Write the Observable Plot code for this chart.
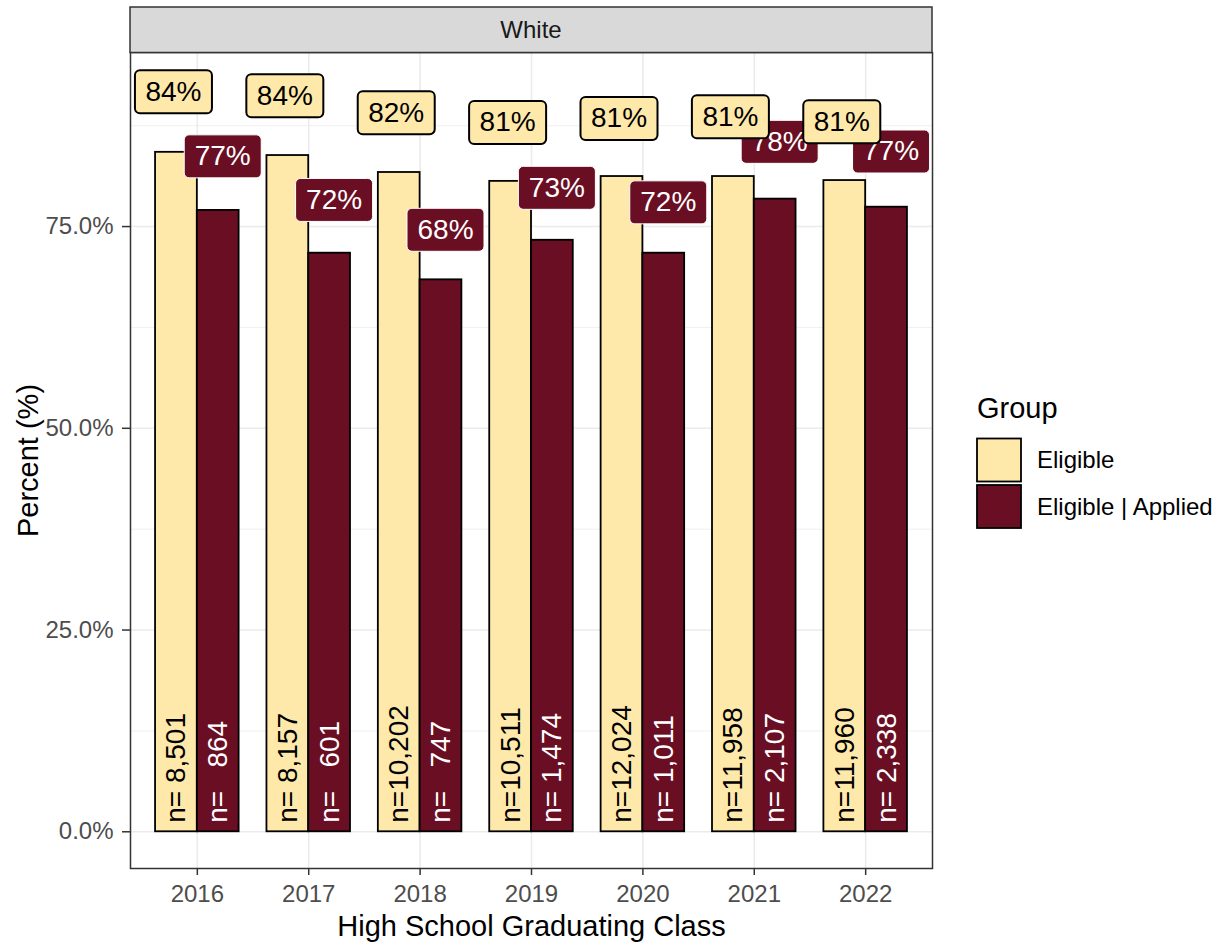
<!DOCTYPE html>
<html>
<head>
<meta charset="utf-8">
<script src="https://cdn.jsdelivr.net/npm/d3@7"></script>
<script src="https://cdn.jsdelivr.net/npm/@observablehq/plot@0.6"></script>
<style>
  html, body { margin: 0; padding: 0; background: white; }
  svg { display: block; }
</style>
</head>
<body>
<div id="chart"></div>
<script>
// ---- data ----
const years = [2016, 2017, 2018, 2019, 2020, 2021, 2022];
const groups = ["Eligible", "Eligible | Applied"];
const eligiblePct = [84.2, 83.8, 81.7, 80.6, 81.2, 81.2, 80.7];
const appliedPct  = [77.0, 71.7, 68.4, 73.3, 71.7, 78.4, 77.4];
const eligibleN = [8501, 8157, 10202, 10511, 12024, 11958, 11960];
const appliedN  = [864, 601, 747, 1474, 1011, 2107, 2338];
// jittered label positions (percent units)
const eligibleLabelY = [91.7, 91.2, 89.1, 87.9, 88.4, 88.6, 88.0];
const appliedLabelY  = [83.7, 78.3, 74.6, 79.8, 78.0, 85.5, 84.3];
const yTicks = [0, 25, 50, 75];
const yMinorTicks = [12.5, 37.5, 62.5, 87.5];
const facetLabel = "White";
const xTitle = "High School Graduating Class";
const yTitle = "Percent (%)";
const legendTitle = "Group";

// ---- styling ----
const colors = ["#FFE9AA", "#6A0E23"];
const textColors = ["#000000", "#FFFFFF"];
const font = "'Liberation Sans', Arial, sans-serif";

const rows = years.flatMap((year, i) => [
  {year, group: groups[0], gi: 0, value: eligiblePct[i], n: eligibleN[i], labelY: eligibleLabelY[i]},
  {year, group: groups[1], gi: 1, value: appliedPct[i], n: appliedN[i], labelY: appliedLabelY[i]}
]);

const barW = 0.375;
const center = d => d.year + (d.gi === 0 ? -barW / 2 : barW / 2);
const fmtN = d => "n=" + d3.format(",")(d.n).padStart(6, "\u00A0");
const fmtPct = d => Math.round(d.value) + "%";

function roundRect(w, h, r) {
  return {
    draw(ctx) {
      const x0 = -w / 2, y0 = -h / 2, x1 = w / 2, y1 = h / 2;
      ctx.moveTo(x0 + r, y0);
      ctx.lineTo(x1 - r, y0);
      ctx.arcTo(x1, y0, x1, y0 + r, r);
      ctx.lineTo(x1, y1 - r);
      ctx.arcTo(x1, y1, x1 - r, y1, r);
      ctx.lineTo(x0 + r, y1);
      ctx.arcTo(x0, y1, x0, y1 - r, r);
      ctx.lineTo(x0, y0 + r);
      ctx.arcTo(x0, y0, x0 + r, y0, r);
      ctx.closePath();
    }
  };
}
const box = roundRect(77, 43, 5);

const elig = rows.filter(d => d.gi === 0);
const appl = rows.filter(d => d.gi === 1);

const labelMarks = (data, dx, fill, stroke, strokeWidth, textFill) => [
  Plot.dot(data, {x: center, y: "labelY", dx, r: 1, symbol: box, fill, stroke, strokeWidth}),
  Plot.text(data, {x: center, y: "labelY", dx, text: fmtPct, fill: textFill, fontSize: 28, lineAnchor: "middle"})
];

const svg = Plot.plot({
  width: 1227,
  height: 945,
  marginLeft: 130,
  marginRight: 295,
  marginTop: 52,
  marginBottom: 77,
  style: {fontFamily: font, background: "white"},
  x: {domain: [2015.4, 2022.6], label: null},
  y: {domain: [-4.55, 96.57], label: null},
  marks: [
    Plot.gridY(yMinorTicks, {stroke: "#EBEBEB", strokeOpacity: 1, strokeWidth: 0.8}),
    Plot.gridY(yTicks, {stroke: "#EBEBEB", strokeOpacity: 1, strokeWidth: 1.6}),
    Plot.gridX(years, {stroke: "#EBEBEB", strokeOpacity: 1, strokeWidth: 1.6}),
    Plot.rect(rows, {
      x1: d => center(d) - barW / 2,
      x2: d => center(d) + barW / 2,
      y1: 0,
      y2: "value",
      fill: d => colors[d.gi],
      stroke: "#000",
      strokeWidth: 1.8
    }),
    Plot.text(rows, {
      x: center, y: 0, text: fmtN, rotate: -90, textAnchor: "start", lineAnchor: "middle",
      dy: -9, fontSize: 28, fill: d => textColors[d.gi]
    }),
    ...labelMarks(appl, 4.5, colors[1], "#FFFFFF", 1, textColors[1]),
    ...labelMarks(elig, -3, colors[0], "#000000", 2, textColors[0]),
    Plot.frame({stroke: "#333333", strokeWidth: 1.5}),
    Plot.axisY({ticks: yTicks, tickFormat: d => d.toFixed(1) + "%", tickSize: 8, tickPadding: 9,
      fontSize: 24, stroke: "#333333", fill: "#4D4D4D", strokeWidth: 1.5, label: null}),
    Plot.axisX({ticks: years, tickFormat: d => String(d), tickSize: 7, tickPadding: 9,
      fontSize: 24, stroke: "#333333", fill: "#4D4D4D", strokeWidth: 1.5, label: null}),
    Plot.text([xTitle], {frameAnchor: "bottom", dy: 58, fontSize: 29, fill: "#000",
      textAnchor: "middle", lineAnchor: "middle"}),
    Plot.text([yTitle], {frameAnchor: "left", dx: -102, rotate: -90, fontSize: 29, fill: "#000",
      textAnchor: "middle", lineAnchor: "middle"})
  ]
});

document.getElementById("chart").append(svg);

// ---- facet strip and legend (decorations) ----
const s = d3.select(svg);
const left = 130, right = 932;
const strip = s.append("g");
strip.append("rect").attr("x", left).attr("y", 7).attr("width", right - left).attr("height", 45.5)
  .attr("fill", "#D9D9D9").attr("stroke", "#333333").attr("stroke-width", 1.5);
strip.append("text").attr("x", (left + right) / 2).attr("y", 30).attr("dy", "0.35em")
  .attr("text-anchor", "middle").attr("font-size", 24).attr("fill", "#1A1A1A")
  .attr("font-family", font).text(facetLabel);

const lg = s.append("g").attr("font-family", font).attr("text-anchor", "start");
lg.append("text").attr("x", 977).attr("y", 418).attr("font-size", 29).attr("fill", "#000")
  .attr("text-anchor", "start").text(legendTitle);
groups.forEach((g, i) => {
  const y0 = 438.5 + i * 46.5;
  lg.append("rect").attr("x", 977).attr("y", y0).attr("width", 44).attr("height", 43)
    .attr("fill", colors[i]).attr("stroke", "#000").attr("stroke-width", 1.8);
  lg.append("text").attr("x", 1037).attr("y", y0 + 21.5).attr("dy", "0.35em")
    .attr("text-anchor", "start").attr("font-size", 24).attr("fill", "#000").text(g);
});
</script>
</body>
</html>
